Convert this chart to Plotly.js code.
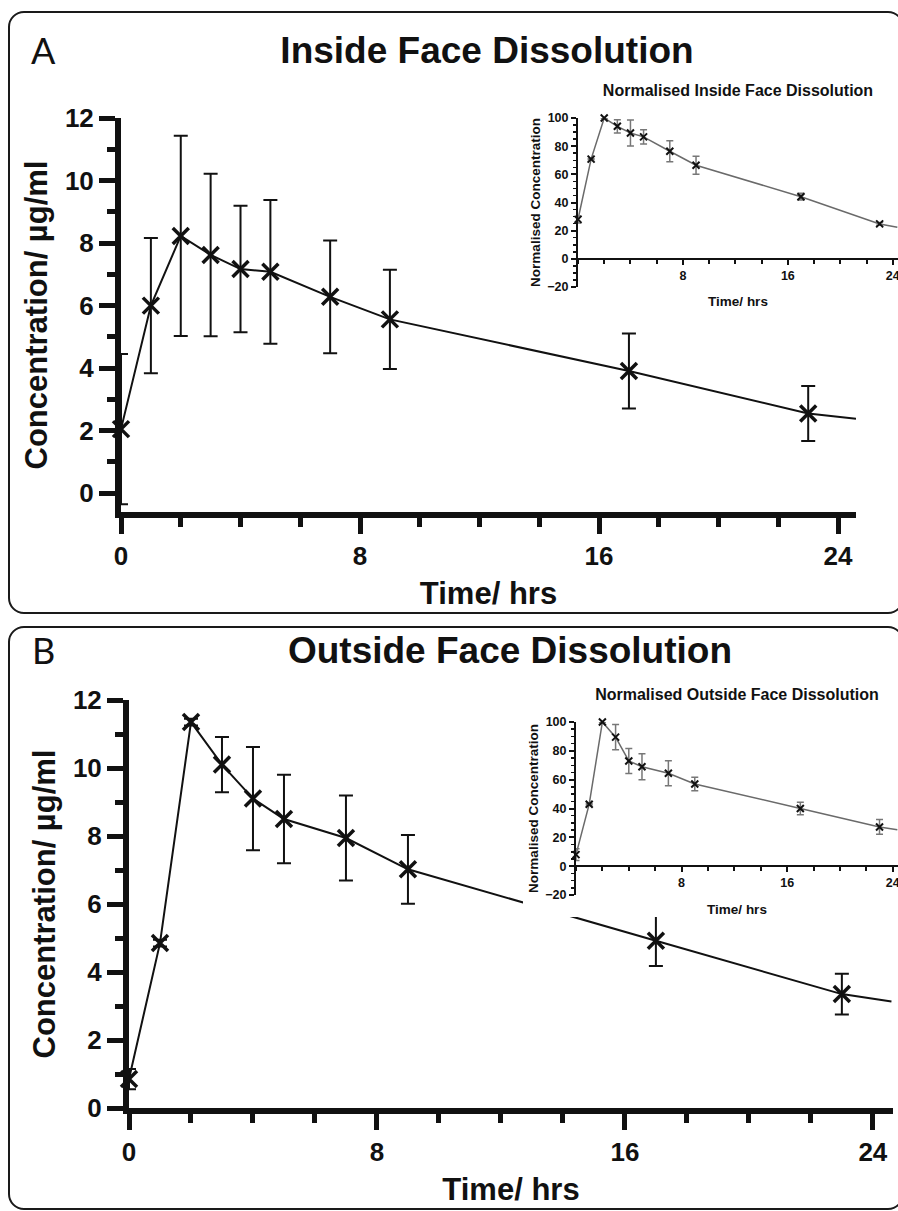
<!DOCTYPE html>
<html><head><meta charset="utf-8">
<script src="https://cdn.plot.ly/plotly-3.0.1.min.js"></script>
<style>
html,body{margin:0;padding:0;width:898px;height:1211px;overflow:hidden;background:#fff;}
.frame{position:absolute;border:2px solid #1a1a1a;border-radius:16px;box-sizing:border-box;}
.plot{position:absolute;}
</style></head><body>
<div class="frame" style="left:8px;top:11px;width:896px;height:603px"></div>
<div class="frame" style="left:8px;top:626px;width:896px;height:584px"></div>
<div id="mainA" class="plot" style="left:0;top:0;width:898px;height:620px"></div>
<div id="insetA" class="plot" style="left:505px;top:70px;width:413px;height:240px"></div>
<div id="mainB" class="plot" style="left:0;top:620px;width:898px;height:591px"></div>
<div id="insetB" class="plot" style="left:523px;top:676px;width:395px;height:241px"></div>
<script>
// ---------- data ----------
const times = [0, 1, 2, 3, 4, 5, 7, 9, 17, 23];
const tailTime = [24.6];
const tailTimeInset = [24.35];

const insideConc = [2.05, 6.0, 8.23, 7.62, 7.17, 7.08, 6.28, 5.56, 3.91, 2.55];
const insideErr  = [2.4, 2.16, 3.2, 2.6, 2.02, 2.3, 1.8, 1.59, 1.2, 0.88];
const insideTail = [2.38];

const outsideConc = [0.85, 4.85, 11.35, 10.1, 9.1, 8.5, 7.94, 7.02, 4.92, 3.35];
const outsideErr  = [0.3, 0.1, 0.1, 0.81, 1.52, 1.3, 1.25, 1.01, 0.74, 0.6];
const outsideTail = [3.13];

const insideNorm    = [28, 70.8, 100, 94.1, 89.4, 86.6, 76.4, 66.5, 44.1, 24.8];
const insideNormErr = [2.5, 0.5, 0.3, 4.7, 9.2, 5, 7.4, 6.4, 2.4, 1];
const insideNormTail = [22.4];

const outsideNorm    = [8, 43, 100, 89.5, 73, 69, 64.4, 57, 40, 27.2];
const outsideNormErr = [4, 0.5, 0.3, 8.7, 8.7, 9, 8.7, 4.7, 4.3, 5.1];
const outsideNormTail = [25.3];

const xTickVals = [0, 8, 16, 24];
const insetXTickVals = [8, 16, 24];

// ---------- styling ----------
const FONT = 'Liberation Sans, Arial, Helvetica, sans-serif';
const INK = '#111111';
const cfg = {staticPlot: true, displayModeBar: false};

function mainPlot(id, o) {
  const W = 898, H = o.H;
  const lineTrace = {
    x: times.concat(tailTime), y: o.conc.concat(o.tail),
    mode: 'lines', line: {color: INK, width: 2}, hoverinfo: 'skip'
  };
  const ptTrace = {
    x: times, y: o.conc, mode: 'markers', cliponaxis: false,
    marker: {symbol: 'x-thin', size: 16, color: INK, line: {color: INK, width: 3.5}},
    error_y: {type: 'data', array: o.err, visible: true, width: 7, thickness: 2, color: INK}
  };
  const pl = o.l, pt = o.t, pw = o.pw, ph = o.ph;
  const layout = {
    width: W, height: H,
    margin: {l: pl, t: pt, r: W - pl - pw, b: H - pt - ph, pad: 0},
    paper_bgcolor: 'rgba(0,0,0,0)', plot_bgcolor: 'rgba(0,0,0,0)',
    showlegend: false,
    font: {family: FONT, color: INK},
    title: {text: o.title, font: {family: FONT, size: 37, weight: 'bold', color: INK},
            xref: 'container', yref: 'container', x: o.titleX / W, y: 1 - o.titleY / H,
            xanchor: 'center', yanchor: 'middle'},
    xaxis: {
      range: o.xRange, tickmode: 'array', tickvals: xTickVals,
      ticks: 'outside', ticklen: 16, tickwidth: 5, tickcolor: INK,
      showline: true, linewidth: 6, linecolor: INK, showgrid: false, zeroline: false,
      tickfont: {family: FONT, size: 26, weight: 'bold', color: INK},
      title: {text: 'Time/ hrs', font: {family: FONT, size: 31, weight: 'bold', color: INK}, standoff: 14},
      minor: {tick0: 0, dtick: 2, ticks: 'outside', ticklen: 9, tickwidth: 5, tickcolor: INK, showgrid: false},
      layer: 'below traces', automargin: false
    },
    yaxis: {
      range: o.yRange, tick0: 0, dtick: 2,
      ticks: 'outside', ticklen: 16, tickwidth: 5, tickcolor: INK,
      showline: true, linewidth: 6, linecolor: INK, showgrid: false, zeroline: false,
      tickfont: {family: FONT, size: 26, weight: 'bold', color: INK},
      title: {text: 'Concentration/ µg/ml', font: {family: FONT, size: 31, weight: 'bold', color: INK}, standoff: 10},
      minor: {tick0: 0, dtick: 1, ticks: 'outside', ticklen: 8, tickwidth: 5, tickcolor: INK, showgrid: false},
      layer: 'below traces', automargin: false
    },
    annotations: [{
      text: o.letter, xref: 'paper', yref: 'paper',
      x: (o.letterX - pl) / pw, y: 1 + (pt - o.letterY) / ph,
      showarrow: false, xanchor: 'center', yanchor: 'middle',
      font: {family: 'Lato, Open Sans, sans-serif', size: 36, color: INK}
    }]
  };
  Plotly.newPlot(id, [lineTrace, ptTrace], layout, cfg);
}

function insetPlot(id, o) {
  const W = o.W, H = o.H;
  const lineTrace = {
    x: times.concat(tailTimeInset), y: o.norm.concat(o.tail),
    mode: 'lines', line: {color: '#6a6a6a', width: 1.5}, hoverinfo: 'skip'
  };
  const ptTrace = {
    x: times, y: o.norm, mode: 'markers', cliponaxis: false,
    marker: {symbol: 'x-thin', size: 7, color: INK, line: {color: INK, width: 2}},
    error_y: {type: 'data', array: o.err, visible: true, width: 3.5, thickness: 1.5, color: '#777777'}
  };
  const yRange = [-20, 100];
  const layout = {
    width: W, height: H,
    margin: {l: o.l, t: o.t, r: W - o.l - o.pw, b: H - o.t - o.ph, pad: 0},
    paper_bgcolor: '#ffffff', plot_bgcolor: '#ffffff', showlegend: false,
    font: {family: FONT, color: INK},
    title: {text: o.title, font: {family: FONT, size: 16, weight: 'bold', color: INK},
            xref: 'container', yref: 'container', x: (o.l + o.pw / 2) / W, y: 1 - o.titleY / H,
            xanchor: 'center', yanchor: 'middle'},
    xaxis: {
      range: [0, 24.4], tickmode: 'array', tickvals: insetXTickVals,
      anchor: 'free', position: (0 - yRange[0]) / (yRange[1] - yRange[0]),
      ticks: 'outside', ticklen: 5, tickwidth: 2, tickcolor: INK,
      showline: true, linewidth: 2, linecolor: INK, showgrid: false, zeroline: false,
      tickfont: {family: FONT, size: 12.5, weight: 'bold', color: INK},
      title: {text: 'Time/ hrs', font: {family: FONT, size: 13.5, weight: 'bold', color: INK}, standoff: 14},
      minor: {tick0: 0, dtick: 2, ticks: 'outside', ticklen: 4, tickwidth: 2, tickcolor: INK, showgrid: false},
      layer: 'below traces', automargin: false
    },
    yaxis: {
      range: yRange, tick0: 0, dtick: 20,
      ticks: 'outside', ticklen: 5, tickwidth: 2, tickcolor: INK,
      showline: true, linewidth: 2, linecolor: INK, showgrid: false, zeroline: false,
      tickfont: {family: FONT, size: 12.5, weight: 'bold', color: INK},
      title: {text: 'Normalised Concentration', font: {family: FONT, size: 13.5, weight: 'bold', color: INK}, standoff: 4},
      minor: {tick0: 0, dtick: 5, ticks: 'outside', ticklen: 3, tickwidth: 1.5, tickcolor: INK, showgrid: false},
      layer: 'below traces', automargin: false
    }
  };
  Plotly.newPlot(id, [lineTrace, ptTrace], layout, cfg);
}

mainPlot('mainA', {H: 620, l: 121, t: 118, pw: 735, ph: 394,
  xRange: [0, 24.6], yRange: [-0.6, 12],
  conc: insideConc, err: insideErr, tail: insideTail,
  title: 'Inside Face Dissolution', titleX: 487, titleY: 50,
  letter: 'A', letterX: 43, letterY: 50});

mainPlot('mainB', {H: 591, l: 129, t: 80, pw: 764, ph: 408,
  xRange: [0, 24.65], yRange: [0, 12],
  conc: outsideConc, err: outsideErr, tail: outsideTail,
  title: 'Outside Face Dissolution', titleX: 510, titleY: 30,
  letter: 'B', letterX: 43, letterY: 30});

insetPlot('insetA', {W: 413, H: 240, l: 73, t: 48, pw: 320, ph: 169,
  norm: insideNorm, err: insideNormErr, tail: insideNormTail,
  title: 'Normalised Inside Face Dissolution', titleY: 20});

insetPlot('insetB', {W: 395, H: 241, l: 53, t: 46, pw: 322, ph: 173,
  norm: outsideNorm, err: outsideNormErr, tail: outsideNormTail,
  title: 'Normalised Outside Face Dissolution', titleY: 18});
</script>
</body></html>
